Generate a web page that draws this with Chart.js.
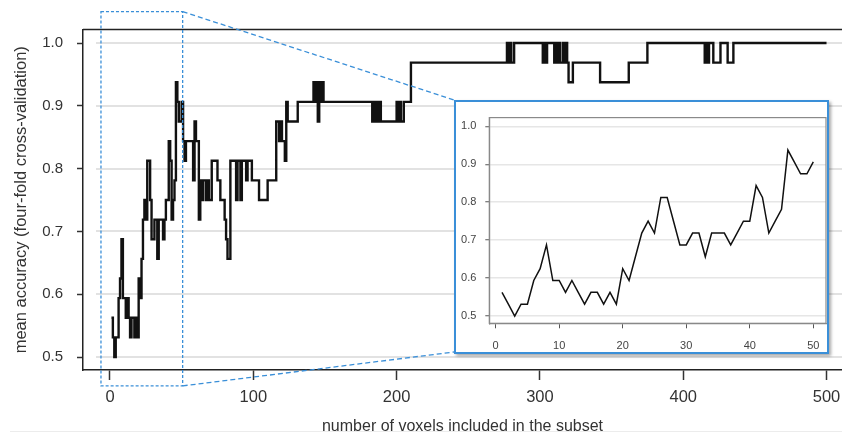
<!DOCTYPE html>
<html>
<head>
<meta charset="utf-8">
<script src="https://cdn.jsdelivr.net/npm/chart.js@4.4.1/dist/chart.umd.min.js"></script>
<style>
html,body{margin:0;padding:0;background:#fff;}
#wrap{position:relative;width:842px;height:437px;overflow:hidden;background:#fff;}
#mainChart{position:absolute;left:0;top:0;}
#insetBox{position:absolute;left:454px;top:100px;width:371px;height:250px;border:2px solid #3a8fd8;background:#fff;box-shadow:2px 2px 3px rgba(0,0,0,0.35);}
#insetChart{position:absolute;left:0;top:0;}
#edge{position:absolute;left:10px;right:0;top:431px;height:1px;background:#ececec;}
</style>
</head>
<body>
<div id="wrap">
  <canvas id="mainChart" width="842" height="437"></canvas>
  <div id="insetBox"><canvas id="insetChart" width="371" height="250"></canvas></div>
  <div id="edge"></div>
</div>
<script>
// voxel count where the accuracy changes (every step for 1..50, then only the changes)
const voxels=[1,2,3,4,5,6,7,8,9,10,11,12,13,14,15,16,17,18,19,20,
  21,22,23,24,25,26,27,28,29,30,31,32,33,34,35,36,37,38,39,40,
  41,42,43,44,45,46,47,48,49,50,
  51,52,53,58,59,60,62,63,64,65,67,68,69,71,75,77,80,81,82,84,88,89,91,92,95,96,99,104,110,
  116,118,119,120,122,123,124,131,
  142,143,144,145,146,147,148,149,183,184,185,186,187,188,189,200,201,202,203,205,210,
  277,278,279,280,282,302,303,304,305,310,311,312,313,314,316,317,318,319,320,323,342,362,375,
  415,416,417,418,421,426,431,435,500];
const meanAccuracy=[.5625,.53125,.5,.53125,.53125,.59375,.625,.6875,.59375,.59375,
  .5625,.59375,.5625,.53125,.5625,.5625,.53125,.5625,.53125,.625,
  .59375,.65625,.71875,.75,.71875,.8125,.8125,.75,.6875,.6875,
  .71875,.71875,.65625,.71875,.71875,.71875,.6875,.71875,.75,.75,
  .84375,.8125,.71875,.75,.78125,.9375,.90625,.875,.875,.90625,
  .84375,.8125,.84375,.78125,.875,.84375,.71875,.78125,.75,.78125,.75,.78125,.75,.8125,.78125,.75,.71875,.6875,.65625,.8125,.75,.8125,.75,.8125,.78125,.8125,.78125,.75,.78125,
  .875,.84375,.875,.84375,.8125,.90625,.875,.90625,
  .9375,.90625,.9375,.875,.9375,.90625,.9375,.90625,.875,.90625,.875,.90625,.875,.90625,.875,.90625,.875,.90625,.875,.90625,.96875,
  1,.96875,1,.96875,1,.96875,1,.96875,1,.96875,1,.96875,1,.96875,1,.96875,1,.96875,.9375,.96875,.9375,.96875,1,
  .96875,1,.96875,1,.96875,1,.96875,1,1];
const xTickValues=[0,100,200,300,400,500];
const yTickValues=[0.5,0.6,0.7,0.8,0.9,1.0];
const insetXTicks=[0,10,20,30,40,50];
const insetYTicks=[0.5,0.6,0.7,0.8,0.9,1.0];

const FONT="'Liberation Sans', Arial, sans-serif";
const zoomBlue="#3a8fd8";

function setTicks(values){ return s=>{ s.ticks=values.map(v=>({value:v})); }; }
// fixed axis size, and no extra room reserved for the end labels
function fixHeight(h){ return s=>{ s.height=h; s.paddingLeft=0; s.paddingRight=0; }; }

// light grid lines that start a bit right of the y axis
const mainGrid={
  id:"mainGrid",
  beforeDatasetsDraw(chart){
    const {ctx,chartArea:a,scales:{y}}=chart;
    ctx.save(); ctx.strokeStyle="#e2e2e2"; ctx.lineWidth=2;
    yTickValues.forEach(v=>{
      const py=Math.round(y.getPixelForValue(v));
      ctx.beginPath(); ctx.moveTo(a.left+13,py); ctx.lineTo(a.right,py); ctx.stroke();
    });
    ctx.restore();
  }
};

// top border line + dashed zoom window and connectors to the inset
const zoomMarks={
  id:"zoomMarks",
  afterDatasetsDraw(chart){
    const {ctx,chartArea:a,scales:{x,y}}=chart;
    ctx.save();
    ctx.strokeStyle="#222"; ctx.lineWidth=1.5;
    ctx.beginPath(); ctx.moveTo(a.left,a.top); ctx.lineTo(a.right,a.top); ctx.stroke();
    const x0=x.getPixelForValue(-6.3), x1=x.getPixelForValue(50.7);
    const y0=y.getPixelForValue(1.05), y1=y.getPixelForValue(0.454);
    ctx.strokeStyle=zoomBlue; ctx.lineWidth=1.3; ctx.setLineDash([3,2]);
    ctx.strokeRect(x0,y0,x1-x0,y1-y0);
    const box=document.getElementById("insetBox");
    const bx=box.offsetLeft, by=box.offsetTop, bh=box.offsetHeight;
    ctx.setLineDash([5,3]);
    ctx.beginPath(); ctx.moveTo(x1,y0); ctx.lineTo(bx,by); ctx.stroke();
    ctx.beginPath(); ctx.moveTo(x1,y1); ctx.lineTo(bx,by+bh-2); ctx.stroke();
    ctx.restore();
  }
};

const frame={
  id:"frame",
  afterDraw(chart){
    const {ctx,chartArea:a}=chart;
    ctx.save(); ctx.strokeStyle="#8a8a8a"; ctx.lineWidth=1.2;
    ctx.strokeRect(a.left,a.top,a.right-a.left,a.bottom-a.top);
    ctx.restore();
  }
};

const mainPoints=voxels.map((v,i)=>({x:v,y:meanAccuracy[i]}));
const insetPoints=mainPoints.filter(p=>p.x<=50);

new Chart(document.getElementById("mainChart"),{
  type:"line",
  data:{datasets:[{data:mainPoints,stepped:true,borderColor:"#111",borderWidth:2.4,pointRadius:0,fill:false}]},
  options:{
    responsive:false,animation:false,
    layout:{autoPadding:false,padding:{top:29.5,right:0,bottom:0,left:0}},
    plugins:{legend:{display:false},tooltip:{enabled:false}},
    scales:{
      x:{type:"linear",min:-18.84,max:510.8,
        afterBuildTicks:setTicks(xTickValues),
        afterFit:fixHeight(67),
        grid:{drawOnChartArea:false,drawTicks:true,tickLength:10,tickColor:"#333",tickWidth:1.5},
        border:{display:true,color:"#222",width:1.5},
        ticks:{color:"#333",font:{family:FONT,size:16.5},padding:8,maxRotation:0},
        title:{display:true,text:"number of voxels included in the subset",color:"#333",font:{family:FONT,size:16},padding:{top:0,bottom:1}}
      },
      y:{type:"linear",min:0.4793,max:1.0215,
        afterBuildTicks:setTicks(yTickValues),
        afterFit:s=>{s.width=83;},
        grid:{drawOnChartArea:false,drawTicks:true,tickLength:6,tickColor:"#333",tickWidth:1.5},
        border:{display:true,color:"#222",width:1.5},
        ticks:{color:"#333",font:{family:FONT,size:15},padding:14,callback:v=>v.toFixed(1)},
        title:{display:true,text:"mean accuracy (four-fold cross-validation)",color:"#333",font:{family:FONT,size:16.5},padding:{top:12,bottom:0}}
      }
    }
  },
  plugins:[mainGrid,zoomMarks]
});

new Chart(document.getElementById("insetChart"),{
  type:"line",
  data:{datasets:[{data:insetPoints,borderColor:"#111",borderWidth:1.5,pointRadius:0,tension:0,fill:false}]},
  options:{
    responsive:false,animation:false,
    layout:{autoPadding:false,padding:{top:3,right:1,bottom:0,left:0}},
    plugins:{legend:{display:false},tooltip:{enabled:false}},
    scales:{
      x:{type:"linear",min:-1,max:52,
        afterBuildTicks:setTicks(insetXTicks),
        afterFit:fixHeight(28.7),
        grid:{drawOnChartArea:false,drawTicks:true,tickLength:5,tickColor:"#555"},
        border:{display:true,color:"#888",width:1.2},
        ticks:{color:"#444",font:{family:FONT,size:11},padding:11,maxRotation:0}
      },
      y:{type:"linear",min:0.481,max:1.023,
        afterBuildTicks:setTicks(insetYTicks),
        afterFit:s=>{s.width=33.3;},
        grid:{color:"#e6e6e6",lineWidth:1.5,drawTicks:true,tickLength:4,tickColor:"#555",tickWidth:1},
        border:{display:true,color:"#888",width:1.2},
        ticks:{color:"#444",font:{family:FONT,size:11},padding:9,callback:v=>v.toFixed(1)}
      }
    }
  },
  plugins:[frame]
});
</script>
</body>
</html>
